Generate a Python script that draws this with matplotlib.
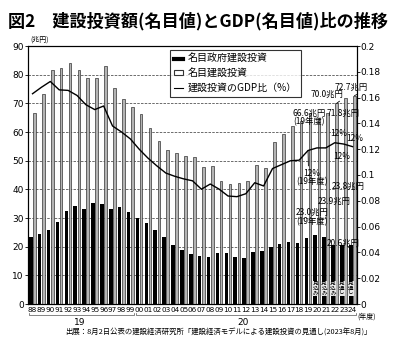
import numpy as np
import matplotlib
matplotlib.use('Agg')
import matplotlib.pyplot as plt
from matplotlib.lines import Line2D
from matplotlib.patches import Patch

plt.rcParams['font.family'] = ['Noto Sans CJK JP', 'DejaVu Sans']

# 年度ラベル (1988〜2024)
years = ['88', '89', '90', '91', '92', '93', '94', '95', '96', '97', '98', '99',
         '00', '01', '02', '03', '04', '05', '06', '07', '08', '09', '10', '11',
         '12', '13', '14', '15', '16', '17', '18', '19', '20', '21', '22', '23', '24']

# 名目政府建設投資 (兆円)
gov = [23.3, 24.3, 25.7, 28.6, 32.3, 34.3, 33.2, 35.3, 34.8, 33.0, 33.9, 32.0,
       30.0, 28.1, 25.8, 23.2, 20.6, 18.8, 17.6, 16.7, 16.5, 17.7, 17.7, 16.3,
       15.9, 18.2, 18.4, 20.0, 20.8, 21.6, 21.4, 23.0, 24.2, 23.3, 20.7, 20.5, 20.5]

# 名目建設投資 (兆円)
total = [66.7, 73.1, 81.6, 82.5, 83.9, 81.8, 78.7, 79.0, 83.0, 75.2, 71.4, 68.6,
         66.2, 61.3, 56.8, 53.7, 52.8, 51.6, 51.4, 47.8, 48.3, 42.9, 42.0, 42.3,
         42.8, 48.4, 47.6, 56.5, 59.2, 62.0, 64.0, 66.6, 65.0, 66.7, 70.0, 71.8, 72.7]

# 建設投資のGDP比
gdp_ratio = [0.163, 0.168, 0.1725, 0.166, 0.1656, 0.1617, 0.1545, 0.1507, 0.1535,
             0.138, 0.1334, 0.128, 0.120, 0.113, 0.107, 0.1015, 0.099, 0.097,
             0.0955, 0.089, 0.093, 0.089, 0.0837, 0.0832, 0.0855, 0.094, 0.0915,
             0.105, 0.108, 0.111, 0.1115, 0.119, 0.121, 0.121, 0.125, 0.124, 0.122]

forecast_notes = ['見込み', '見込み', '見込み', '見通し', '見通し']   # 20〜24年度

left_ticks = [0, 10, 20, 30, 40, 50, 60, 70, 80, 90]
right_ticks = [0, 0.02, 0.04, 0.06, 0.08, 0.1, 0.12, 0.14, 0.16, 0.18, 0.2]
right_labels = ['0', '0.02', '0.04', '0.06', '0.08', '0.1', '0.12', '0.14', '0.16', '0.18', '0.2']

W, H = 393, 346
fig = plt.figure(figsize=(W / 100, H / 100), dpi=100)
ax = fig.add_axes([28 / W, 1 - 304 / H, (356.5 - 28) / W, (304 - 46) / H])
ax2 = ax.twinx()

x = np.arange(len(years))
ax.bar(x - 0.2, gov, width=0.4, color='black', zorder=3)
ax.bar(x + 0.22, total, width=0.3, color='#b4b4b4', edgecolor='#333333',
       linewidth=0.5, zorder=3)
ax2.plot(x, gdp_ratio, color='black', linewidth=1.0, zorder=4)

ax.set_xlim(-0.51, 36.45)
ax.set_ylim(0, 90)
ax2.set_ylim(0, 0.2)

num_font = dict(family=['Liberation Sans Narrow', 'DejaVu Sans'])
ax.set_yticks(left_ticks)
ax.set_yticklabels([str(t) for t in left_ticks], fontsize=6.5, **num_font)
ax2.set_yticks(right_ticks)
ax2.set_yticklabels(right_labels, fontsize=6.5, **num_font)
ax.set_xticks(x)
ax.set_xticklabels(years, fontsize=5.2, **num_font)
ax.tick_params(axis='x', length=0, pad=2)
ax.tick_params(axis='y', length=2, pad=1, width=0.6)
ax2.tick_params(axis='y', length=2, pad=1, width=0.6)

for t in left_ticks[1:-1]:
    ax.axhline(t, color='#555555', linewidth=0.6, linestyle=(0, (3, 1.5)), zorder=1)

for a in (ax, ax2):
    for s in a.spines.values():
        s.set_linewidth(0.8)

# 単位
ax.text(-0.2, 90.8, '(兆円)', fontsize=5, ha='left', va='bottom')
ax.text(36.55, -3.0, '(年度)', fontsize=5, ha='left', va='top')

# 年代のくくり
yb = -4.0
ax.plot([-0.45, -0.45, 11.4, 11.4], [yb + 0.8, yb, yb, yb + 0.8], color='#555555',
        linewidth=0.5, clip_on=False)
ax.plot([11.6, 11.6, 36.4, 36.4], [yb + 0.8, yb, yb, yb + 0.8], color='#555555',
        linewidth=0.5, clip_on=False)
ax.text(5.3, -5.0, '19', fontsize=6.5, ha='center', va='top', **num_font)
ax.text(23.7, -5.0, '20', fontsize=6.5, ha='center', va='top', **num_font)

# 注記
k = 0.2 / 90
lab = dict(fontsize=6, ha='center', va='center', zorder=6)
ax2.annotate('70.0兆円', xy=(34.22, 70.0 * k), xytext=(33.1, 73.3 * k),
             arrowprops=dict(arrowstyle='-', color='black', lw=0.6,
                             shrinkA=0, shrinkB=0, relpos=(1, 0)), **lab)
ax2.annotate('72.7兆円', xy=(36.22, 72.7 * k), xytext=(35.8, 75.7 * k),
             arrowprops=dict(arrowstyle='-', color='black', lw=0.6,
                             shrinkA=0, shrinkB=0, relpos=(0.9, 0)), **lab)
ax2.text(34.98, 66.6 * k, '71.8兆円', **lab)
ax2.text(31.1, 65.1 * k, '66.6兆円\n(19年度)', linespacing=0.95, **lab)
ax2.text(34.5, 59.6 * k, '12%', **lab)
ax2.text(36.2, 57.9 * k, '12%', **lab)
ax2.text(34.8, 51.3 * k, '12%', **lab)
ax2.annotate('12%\n(19年度)', xy=(31, gdp_ratio[31]), xytext=(31.4, 44.1 * k),
             linespacing=0.95,
             arrowprops=dict(arrowstyle='-', color='black', lw=0.6,
                             shrinkA=0, shrinkB=0, relpos=(0.4, 1)), **lab)
ax2.text(31.45, 30.3 * k, '23.0兆円\n(19年度)', linespacing=0.95, **lab)
ax2.text(33.9, 35.7 * k, '23.9兆円', **lab)
ax2.text(35.5, 40.9 * k, '23.8兆円', **lab)
ax2.text(34.9, 21.3 * k, '20.6兆円', **lab)

for i, note in enumerate(forecast_notes):
    xi = 32 + i - 0.2
    ax2.text(xi, 5.5 * k, '\n'.join(note), fontsize=4, ha='center', va='center',
             linespacing=0.9, zorder=6,
             bbox=dict(boxstyle='square,pad=0.05', facecolor='#e8e8e8',
                       edgecolor='none'))

# 凡例
handles = [Line2D([0], [0], color='black', linewidth=3),
           Patch(facecolor='white', edgecolor='#333333', linewidth=0.8),
           Line2D([0], [0], color='black', linewidth=0.8)]
labels = ['名目政府建設投資', '名目建設投資', '建設投資のGDP比（%）']
leg = ax2.legend(handles, labels, loc='upper left', bbox_to_anchor=(0.432, 0.985),
                 fontsize=7.2, frameon=True, fancybox=False, edgecolor='black',
                 handlelength=0.9, handleheight=0.4, handletextpad=0.5,
                 labelspacing=0.45, borderpad=0.4, borderaxespad=0)
leg.get_frame().set_linewidth(0.8)
leg.set_zorder(10)

fig.text(8 / W, 1 - 21 / H, '図2　建設投資額(名目値)とGDP(名目値)比の推移',
         fontsize=12.3, fontweight='bold', ha='left', va='center')
fig.text(65 / W, 1 - 333 / H,
         '出展：8月2日公表の建設経済研究所「建設経済モデルによる建設投資の見通し(2023年8月)」',
         fontsize=5.3, ha='left', va='center')

fig.savefig('out.png', dpi=100)
